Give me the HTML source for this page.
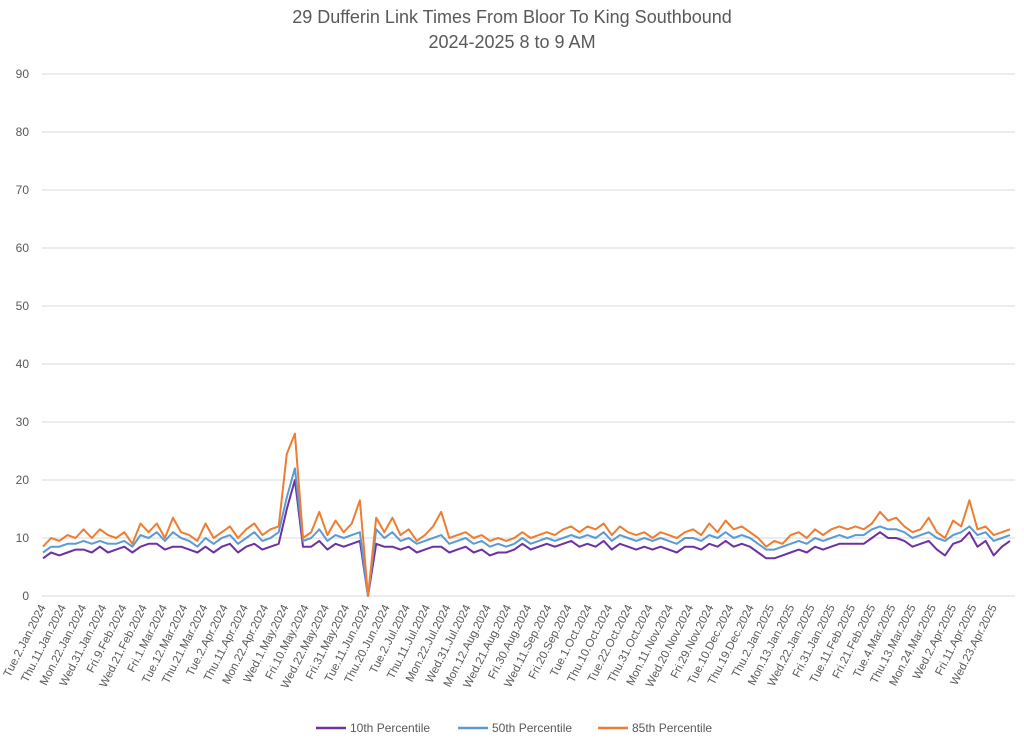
<!DOCTYPE html>
<html><head><meta charset="utf-8"><style>
html,body{margin:0;padding:0;background:#fff;}
svg{display:block;font-family:"Liberation Sans",sans-serif;}
</style></head><body>
<svg id="chart" width="1024" height="741">
<text x="512" y="23" text-anchor="middle" font-size="18" fill="#595959">29 Dufferin Link Times From Bloor To King Southbound</text>
<text x="512" y="48" text-anchor="middle" font-size="18" fill="#595959">2024-2025 8 to 9 AM</text>
<g id="grid"></g><g id="xlabels"></g><g id="series"></g>
<g>
<line x1="316" y1="728" x2="346" y2="728" stroke="#7030a0" stroke-width="2.5"/>
<text x="350" y="732" font-size="12" fill="#595959">10th Percentile</text>
<line x1="458" y1="728" x2="488" y2="728" stroke="#5b9bd5" stroke-width="2.5"/>
<text x="492" y="732" font-size="12" fill="#595959">50th Percentile</text>
<line x1="598" y1="728" x2="628" y2="728" stroke="#ed7d31" stroke-width="2.5"/>
<text x="632" y="732" font-size="12" fill="#595959">85th Percentile</text>
</g>
</svg>
<script>
const yTicks=[0,10,20,30,40,50,60,70,80,90];
const dateLabels=["Tue.2.Jan.2024","Thu.11.Jan.2024","Mon.22.Jan.2024","Wed.31.Jan.2024","Fri.9.Feb.2024","Wed.21.Feb.2024","Fri.1.Mar.2024","Tue.12.Mar.2024","Thu.21.Mar.2024","Tue.2.Apr.2024","Thu.11.Apr.2024","Mon.22.Apr.2024","Wed.1.May.2024","Fri.10.May.2024","Wed.22.May.2024","Fri.31.May.2024","Tue.11.Jun.2024","Thu.20.Jun.2024","Tue.2.Jul.2024","Thu.11.Jul.2024","Mon.22.Jul.2024","Wed.31.Jul.2024","Mon.12.Aug.2024","Wed.21.Aug.2024","Fri.30.Aug.2024","Wed.11.Sep.2024","Fri.20.Sep.2024","Tue.1.Oct.2024","Thu.10.Oct.2024","Tue.22.Oct.2024","Thu.31.Oct.2024","Mon.11.Nov.2024","Wed.20.Nov.2024","Fri.29.Nov.2024","Tue.10.Dec.2024","Thu.19.Dec.2024","Thu.2.Jan.2025","Mon.13.Jan.2025","Wed.22.Jan.2025","Fri.31.Jan.2025","Tue.11.Feb.2025","Fri.21.Feb.2025","Tue.4.Mar.2025","Thu.13.Mar.2025","Mon.24.Mar.2025","Wed.2.Apr.2025","Fri.11.Apr.2025","Wed.23.Apr.2025"];
const p85=[8.5,10,9.5,10.5,10,11.5,10,11.5,10.5,10,11,9,12.5,11,12.5,10,13.5,11,10.5,9.5,12.5,10,11,12,10,11.5,12.5,10.5,11.5,12,24.5,28,10,11,14.5,10.5,13,11,12.5,16.5,0,13.5,11,13.5,10.5,11.5,9.5,10.5,12,14.5,10,10.5,11,10,10.5,9.5,10,9.5,10,11,10,10.5,11,10.5,11.5,12,11,12,11.5,12.5,10.5,12,11,10.5,11,10,11,10.5,10,11,11.5,10.5,12.5,11,13,11.5,12,11,10,8.5,9.5,9,10.5,11,10,11.5,10.5,11.5,12,11.5,12,11.5,12.5,14.5,13,13.5,12,11,11.5,13.5,11,10,13,12,16.5,11.5,12,10.5,11,11.5];
const p50=[7.5,8.5,8.5,9,9,9.5,9,9.5,9,9,9.5,8.5,10.5,10,11,9.5,11,10,9.5,8.5,10,9,10,10.5,9,10,11,9.5,10,11,17,22,9.5,10,11.5,9.5,10.5,10,10.5,11,0,11.5,10,11,9.5,10,9,9.5,10,10.5,9,9.5,10,9,9.5,8.5,9,8.5,9,10,9,9.5,10,9.5,10,10.5,10,10.5,10,11,9.5,10.5,10,9.5,10,9.5,10,9.5,9,10,10,9.5,10.5,10,11,10,10.5,10,9,8,8,8.5,9,9.5,9,10,9.5,10,10.5,10,10.5,10.5,11.5,12,11.5,11.5,11,10,10.5,11,10,9.5,10.5,11,12,10.5,11,9.5,10,10.5];
const p10=[6.5,7.5,7,7.5,8,8,7.5,8.5,7.5,8,8.5,7.5,8.5,9,9,8,8.5,8.5,8,7.5,8.5,7.5,8.5,9,7.5,8.5,9,8,8.5,9,15,20,8.5,8.5,9.5,8,9,8.5,9,9.5,0,9,8.5,8.5,8,8.5,7.5,8,8.5,8.5,7.5,8,8.5,7.5,8,7,7.5,7.5,8,9,8,8.5,9,8.5,9,9.5,8.5,9,8.5,9.5,8,9,8.5,8,8.5,8,8.5,8,7.5,8.5,8.5,8,9,8.5,9.5,8.5,9,8.5,7.5,6.5,6.5,7,7.5,8,7.5,8.5,8,8.5,9,9,9,9,10,11,10,10,9.5,8.5,9,9.5,8,7,9,9.5,11,8.5,9.5,7,8.5,9.5];
const NS="http://www.w3.org/2000/svg";
const X0=42,X1=1015,Y0=596,Ytop=74,DX0=43,DX1=1010;
function yS(v){return Y0-(v/90)*(Y0-Ytop);}
function xS(i,n){return DX0+i*(DX1-DX0)/(n-1);}
function lx(k){return 46+k*(997-46)/(dateLabels.length-1);}
const grid=document.getElementById('grid');
yTicks.forEach(t=>{
 const l=document.createElementNS(NS,'line');
 l.setAttribute('x1',X0);l.setAttribute('x2',X1);l.setAttribute('y1',yS(t));l.setAttribute('y2',yS(t));
 l.setAttribute('stroke','#d9d9d9');l.setAttribute('stroke-width','1');
 
 
 grid.appendChild(l);
 const tx=document.createElementNS(NS,'text');
 tx.setAttribute('x',29);tx.setAttribute('y',yS(t)+4);tx.setAttribute('text-anchor','end');
 tx.setAttribute('font-size','12');tx.setAttribute('fill','#595959');tx.textContent=t;
 
 
 grid.appendChild(tx);
});
const xl=document.getElementById('xlabels');
dateLabels.forEach((d,k)=>{
 const tx=document.createElementNS(NS,'text');
 const x=lx(k),y=607;
 tx.setAttribute('x',x);tx.setAttribute('y',y);tx.setAttribute('text-anchor','end');
 tx.setAttribute('font-size','11.5');tx.setAttribute('fill','#595959');
 tx.setAttribute('transform','rotate(-63 '+x+' '+y+')');tx.textContent=d;
 
 
 xl.appendChild(tx);
});
const ser=document.getElementById('series');
[[p10,'#7030a0','series-10th-percentile'],[p50,'#5b9bd5','series-50th-percentile'],[p85,'#ed7d31','series-85th-percentile']].forEach(([arr,c,nm])=>{
 const pts=arr.map((v,i)=>xS(i,arr.length).toFixed(1)+','+yS(v).toFixed(1)).join(' ');
 const pl=document.createElementNS(NS,'polyline');
 pl.setAttribute('points',pts);pl.setAttribute('fill','none');pl.setAttribute('stroke',c);
 pl.setAttribute('stroke-width','2');pl.setAttribute('stroke-linejoin','round');
 
 
 ser.appendChild(pl);
});
</script>
</body></html>
